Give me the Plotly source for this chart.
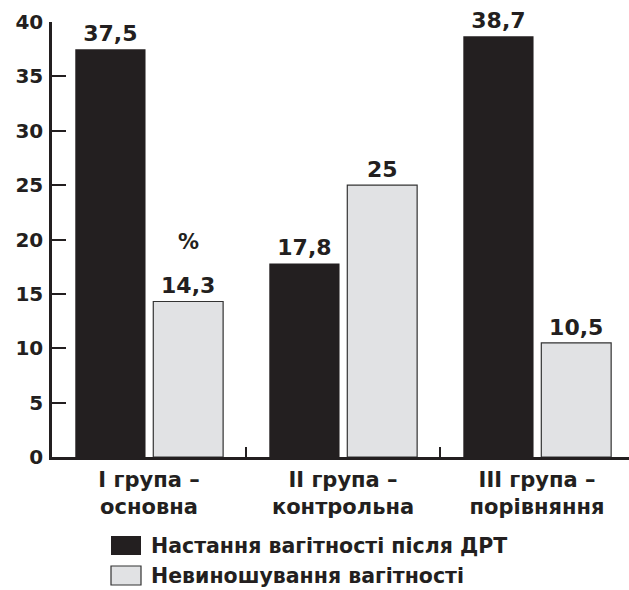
import plotly.graph_objects as go

# Groups and series values (%)
groups = ["I група –<br>основна", "II група –<br>контрольна", "III група –<br>порівняння"]
pregnancy_after_art = [37.5, 17.8, 38.7]
miscarriage = [14.3, 25, 10.5]
series_names = ["Настання вагітності після ДРТ", "Невиношування вагітності"]
y_ticks = [0, 5, 10, 15, 20, 25, 30, 35, 40]

FONT = "DejaVu Sans"
DARK = "#231f20"
LIGHT = "#e1e2e4"


def fmt(v):
    s = f"{v:g}"
    return s.replace(".", ",")


fig = go.Figure()
fig.add_trace(go.Bar(
    x=groups, y=pregnancy_after_art, name=series_names[0],
    marker=dict(color=DARK, line=dict(width=0)),
    offset=-0.38, width=0.362,
    text=[fmt(v) for v in pregnancy_after_art], textposition="outside",
    textfont=dict(family=FONT, size=22, color=DARK, weight="bold"),
    constraintext="none", cliponaxis=False, showlegend=False,
))
fig.add_trace(go.Bar(
    x=groups, y=miscarriage, name=series_names[1],
    marker=dict(color=LIGHT, line=dict(width=1.2, color="#333333")),
    offset=0.022, width=0.36,
    text=[fmt(v) for v in miscarriage], textposition="outside",
    textfont=dict(family=FONT, size=22, color=DARK, weight="bold"),
    constraintext="none", cliponaxis=False, showlegend=False,
))

# Pixel-to-paper helpers for the hand-drawn legend
W, H = 629, 590
ML, MR, MT, MB = 52, 0, 22, 133
PW, PH = W - ML - MR, H - MT - MB


def px(x):
    return (x - ML) / PW


def py(y):
    return (H - MB - y) / PH


shapes = [
    dict(type="rect", xref="paper", yref="paper", x0=px(111), x1=px(141),
         y0=py(555), y1=py(536), fillcolor=DARK, line=dict(width=0)),
    dict(type="rect", xref="paper", yref="paper", x0=px(111), x1=px(141),
         y0=py(585), y1=py(566), fillcolor=LIGHT, line=dict(width=1.2, color="#333333")),
]
annotations = [
    dict(xref="paper", yref="paper", x=px(149), y=py(546), text=series_names[0],
         showarrow=False, xanchor="left", yanchor="middle",
         font=dict(family=FONT, size=20.5, color=DARK, weight="bold")),
    dict(xref="paper", yref="paper", x=px(149), y=py(576), text=series_names[1],
         showarrow=False, xanchor="left", yanchor="middle",
         font=dict(family=FONT, size=20.5, color=DARK, weight="bold")),
    dict(x=0.204, y=19.8, xref="x", yref="y", text="%", showarrow=False,
         font=dict(family=FONT, size=21, color=DARK, weight="bold")),
]

fig.update_layout(
    width=W, height=H,
    margin=dict(l=ML, r=MR, t=MT, b=MB),
    paper_bgcolor="white", plot_bgcolor="white",
    shapes=shapes, annotations=annotations,
    font=dict(family=FONT, color=DARK),
)
fig.update_xaxes(
    type="category", range=[-0.5, 2.474],
    showline=True, linewidth=2.5, linecolor=DARK,
    tickson="boundaries", ticks="inside", ticklen=10, tickwidth=2, tickcolor=DARK,
    tickfont=dict(family=FONT, size=21, color=DARK, weight="bold"),
    ticklabelstandoff=2,
    showgrid=False, zeroline=False,
)
fig.update_yaxes(
    range=[0, 40], tickvals=y_ticks,
    showline=True, linewidth=2.5, linecolor=DARK,
    ticks="inside", ticklen=14, tickwidth=2, tickcolor=DARK,
    tickfont=dict(family=FONT, size=20, color=DARK, weight="bold"),
    ticklabelstandoff=2,
    showgrid=False, zeroline=False,
)

fig.write_html("out.html")
